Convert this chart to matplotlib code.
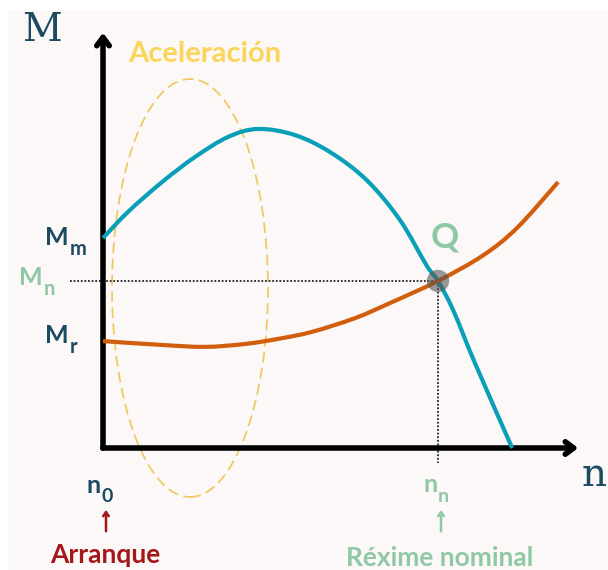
import numpy as np
import matplotlib.pyplot as plt
from matplotlib.patches import Ellipse, Rectangle, PathPatch
from matplotlib.path import Path

# curva do motor (Mm) e curva resistente (Mr), n e M en unidades relativas
n_motor = [0, 6.1, 14.4, 22.4, 30.5, 37.8, 46.8, 55.6, 64.4, 72.4, 79.0, 81.7, 85.4, 90.7, 99.8]
m_motor = [65.6, 73.8, 83.1, 90.9, 97.2, 99.7, 97.8, 92.3, 83.6, 71.3, 56.9, 52.2, 43.1, 26.6, 0]
n_res = [0, 14.4, 24.9, 34.6, 42.7, 51.0, 61.5, 70.0, 81.7, 92.7, 101, 111]
m_res = [33.4, 32.2, 31.6, 32.5, 34.1, 36.3, 40.6, 45.3, 52.2, 60.2, 68.8, 83.1]
q_point = (81.7, 52.2)

DARK = '#1b4b60'
GREEN = '#8fc8a4'
RED = '#a3161a'
YELLOW = '#fbd55a'

# pixel -> unidades do grafico (so para colocar textos)
def nx(px):
    return (px - 103) / 4.1

def my(py):
    return (448 - py) / 3.2


def smooth_path(xs, ys):
    # curva suave (bezier cubica) que pasa polos puntos lidos
    p = np.column_stack([xs, ys]).astype(float)
    verts = [p[0]]
    codes = [Path.MOVETO]
    for i in range(len(p) - 1):
        p0 = p[i - 1] if i > 0 else p[i]
        p3 = p[i + 2] if i + 2 < len(p) else p[i + 1]
        c1 = p[i] + (p[i + 1] - p0) / 6
        c2 = p[i + 1] - (p3 - p[i]) / 6
        verts += [c1, c2, p[i + 1]]
        codes += [Path.CURVE4] * 3
    return Path(verts, codes)


fig = plt.figure(figsize=(6.08, 5.70), dpi=100)
fig.patch.set_facecolor('white')
fig.patches.append(Rectangle((8 / 608, 0), 1, 560 / 570, transform=fig.transFigure,
                             facecolor='#fcf8f8', edgecolor='none', zorder=-1))
ax = fig.add_axes([0, 0, 1, 1])
ax.set_xlim(nx(0), nx(608))
ax.set_ylim(my(570), my(0))
ax.axis('off')

# elipse da aceleracion
ax.add_patch(Ellipse((nx(190), my(288)), 156 / 4.1, 418 / 3.2, fill=False,
                     edgecolor='#eecb62', lw=1.3, ls=(0, (6, 3))))

# liñas punteadas ao punto Q
ax.plot([nx(70), q_point[0]], [q_point[1], q_point[1]], color='#222222', lw=1.3, ls=(0, (1, 1)))
ax.plot([q_point[0], q_point[0]], [q_point[1], my(463)], color='#222222', lw=1.3, ls=(0, (1, 1)))

# eixos
ax.annotate('', xy=(0, my(30)), xytext=(0, my(451)),
            arrowprops=dict(arrowstyle='->,head_width=0.45,head_length=0.6', lw=4, color='black'))
ax.annotate('', xy=(nx(581), 0), xytext=(nx(100), 0),
            arrowprops=dict(arrowstyle='->,head_width=0.45,head_length=0.6', lw=4, color='black'))

ax.add_patch(PathPatch(smooth_path(n_motor, m_motor), fill=False, edgecolor='#0a9fb8',
                       lw=3, capstyle='butt', zorder=3))
ax.add_patch(PathPatch(smooth_path(n_res, m_res), fill=False, edgecolor='#d15e0c',
                       lw=3, capstyle='butt', zorder=3))
ax.scatter([q_point[0]], [q_point[1]], s=260, color='#555555', alpha=0.6, edgecolor='none', zorder=4)

serif = 'DejaVu Serif'
sans = 'Lato'
BW = 'bold'
ax.text(nx(42), my(30), 'M', family=serif, fontsize=28, color=DARK, ha='center', va='center')
ax.text(nx(582), my(475), 'n', family=serif, fontsize=28, color=DARK, ha='left', va='center')
ax.text(nx(205), my(62), 'Aceleración', family=sans, weight=BW, fontsize=21,
        color=YELLOW, ha='center', va='baseline')
ax.text(nx(445), my(247), 'Q', family=sans, weight=BW, fontsize=25,
        color=GREEN, ha='center', va='baseline')

# etiquetas do eixo M
def label(x, y, main, sub, color, size=18):
    ax.text(nx(x), my(y), main, family=sans, weight=BW, fontsize=size,
            color=color, ha='right', va='baseline')
    ax.text(nx(x + 1), my(y + 10), sub, family=sans, weight=BW, fontsize=size * 0.8,
            color=color, ha='left', va='baseline')

label(69, 245, 'M', 'm', DARK)
label(43, 285, 'M', 'n', GREEN)
label(69, 343, 'M', 'r', DARK)

# etiquetas do eixo n
ax.text(nx(101), my(493), 'n', family=sans, weight=BW, fontsize=18, color=DARK, ha='right', va='baseline')
ax.text(nx(101), my(502), '0', family=sans, weight=BW, fontsize=14, color=DARK, ha='left', va='baseline')
ax.text(nx(438), my(492), 'n', family=sans, weight=BW, fontsize=18, color=GREEN, ha='right', va='baseline')
ax.text(nx(438), my(502), 'n', family=sans, weight=BW, fontsize=14, color=GREEN, ha='left', va='baseline')

ax.annotate('', xy=(nx(106), my(507)), xytext=(nx(106), my(534)),
            arrowprops=dict(arrowstyle='->,head_width=0.2,head_length=0.3', lw=1.8, color=RED))
ax.annotate('', xy=(nx(441), my(507)), xytext=(nx(441), my(534)),
            arrowprops=dict(arrowstyle='->,head_width=0.2,head_length=0.3', lw=1.8, color=GREEN))

ax.text(nx(105), my(563), 'Arranque', family=sans, weight=BW, fontsize=19,
        color=RED, ha='center', va='baseline')
ax.text(nx(440), my(566), 'Réxime nominal', family=sans, weight=BW, fontsize=19,
        color=GREEN, ha='center', va='baseline')

fig.savefig('out.png', dpi=100, facecolor=fig.get_facecolor())
